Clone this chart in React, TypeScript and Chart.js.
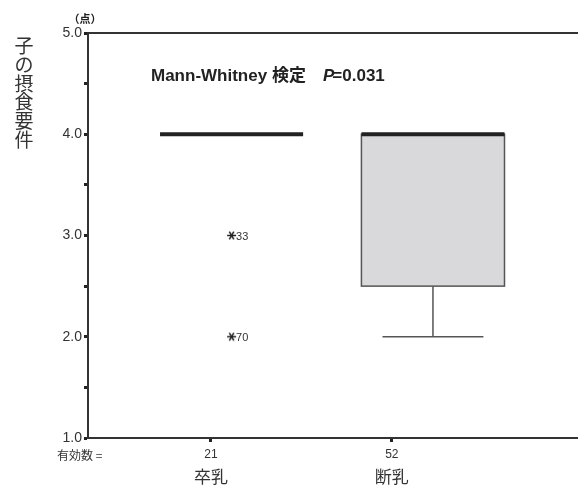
import React, { useEffect, useRef } from 'react';
import { Chart, registerables } from 'chart.js';

Chart.register(...registerables);

// ---- data ----
const categories = ['卒乳', '断乳'];
const validN = [21, 52];
const whiskerLow = [4.0, 2.0];
const q1 = [4.0, 2.5];
const median = [4.0, 4.0];
const q3 = [4.0, 4.0];
const whiskerHigh = [4.0, 4.0];
const outlierGroup = [0, 0];
const outlierValues = [3.0, 2.0];
const outlierLabels = ['33', '70'];
const yTicks = [1.0, 1.5, 2.0, 2.5, 3.0, 3.5, 4.0, 4.5, 5.0];
const yTitle = '子の摂食要件';
const yUnit = '（点）';
const testLabel = 'Mann-Whitney 検定';
const pLabel = '=0.031';
const nLabel = '有効数 =';

// ---- layout (x scale in percent of plot width) ----
const TICK_POS = [25.1, 62.0];
const BOX_POS = [29.3, 70.4];
const BOX_HALF = 14.6;
const CAP_HALF = 10.3;

const SANS = '"Liberation Sans", "Noto Sans CJK JP", sans-serif';
const CJK = '"Noto Sans CJK JP", sans-serif';

function makeAsterisk(): HTMLCanvasElement {
  const c = document.createElement('canvas');
  c.width = 11;
  c.height = 11;
  const g = c.getContext('2d')!;
  g.strokeStyle = '#222';
  g.lineWidth = 1.5;
  const cx = 5.5, cy = 5.5, r = 4.5;
  for (const a of [0, Math.PI / 3, (2 * Math.PI) / 3]) {
    g.beginPath();
    g.moveTo(cx - r * Math.cos(a), cy - r * Math.sin(a));
    g.lineTo(cx + r * Math.cos(a), cy + r * Math.sin(a));
    g.stroke();
  }
  return c;
}

const boxPlugin = {
  id: 'boxPlugin',
  beforeDatasetsDraw(chart: any) {
    const { ctx, scales, chartArea } = chart;
    const xs = scales.x, ys = scales.y;
    ctx.save();
    // top frame line
    ctx.strokeStyle = '#333';
    ctx.lineWidth = 2;
    ctx.beginPath();
    ctx.moveTo(chartArea.left, chartArea.top);
    ctx.lineTo(chartArea.right, chartArea.top);
    ctx.stroke();

    for (let i = 0; i < categories.length; i++) {
      const xl = xs.getPixelForValue(BOX_POS[i] - BOX_HALF);
      const xr = xs.getPixelForValue(BOX_POS[i] + BOX_HALF);
      const xc = xs.getPixelForValue(BOX_POS[i]);
      const cl = xs.getPixelForValue(BOX_POS[i] - CAP_HALF);
      const cr = xs.getPixelForValue(BOX_POS[i] + CAP_HALF);
      const yq1 = ys.getPixelForValue(q1[i]);
      const yq3 = ys.getPixelForValue(q3[i]);
      const ymed = ys.getPixelForValue(median[i]);
      const ylo = ys.getPixelForValue(whiskerLow[i]);
      const yhi = ys.getPixelForValue(whiskerHigh[i]);
      ctx.strokeStyle = '#555';
      ctx.lineWidth = 1.5;
      if (Math.abs(yq1 - yq3) > 0.5) {
        ctx.fillStyle = '#d9d9db';
        ctx.fillRect(xl, yq3, xr - xl, yq1 - yq3);
        ctx.strokeRect(xl, yq3, xr - xl, yq1 - yq3);
      }
      if (Math.abs(ylo - yq1) > 0.5) {
        ctx.beginPath();
        ctx.moveTo(xc, yq1);
        ctx.lineTo(xc, ylo);
        ctx.moveTo(cl, ylo);
        ctx.lineTo(cr, ylo);
        ctx.stroke();
      }
      if (Math.abs(yhi - yq3) > 0.5) {
        ctx.beginPath();
        ctx.moveTo(xc, yq3);
        ctx.lineTo(xc, yhi);
        ctx.moveTo(cl, yhi);
        ctx.lineTo(cr, yhi);
        ctx.stroke();
      }
      ctx.strokeStyle = '#222';
      ctx.lineWidth = 4;
      ctx.beginPath();
      ctx.moveTo(xl, ymed);
      ctx.lineTo(xr, ymed);
      ctx.stroke();
    }
    ctx.restore();
  },
  afterDraw(chart: any) {
    const { ctx, scales } = chart;
    const xs = scales.x, ys = scales.y;
    ctx.save();
    // outlier labels
    ctx.fillStyle = '#333';
    ctx.font = '11px ' + SANS;
    ctx.textAlign = 'left';
    ctx.textBaseline = 'middle';
    for (let k = 0; k < outlierValues.length; k++) {
      const x = xs.getPixelForValue(BOX_POS[outlierGroup[k]]) + 4.5;
      const y = ys.getPixelForValue(outlierValues[k]) + 1.5;
      ctx.fillText(outlierLabels[k], x, y);
    }
    // vertical title
    ctx.fillStyle = '#333';
    ctx.font = '19px ' + CJK;
    ctx.textAlign = 'center';
    ctx.textBaseline = 'middle';
    const chars = Array.from(yTitle);
    chars.forEach((ch, i) => ctx.fillText(ch, 24, 46 + i * 18.7));
    // unit
    ctx.font = 'bold 11px ' + CJK;
    ctx.fillStyle = '#222';
    ctx.fillText(yUnit, 85, 19);
    // test annotation
    ctx.textAlign = 'left';
    ctx.fillStyle = '#222';
    ctx.font = 'bold 17px ' + SANS;
    const ay = ys.getPixelForValue(4.57);
    ctx.fillText(testLabel, 151, ay);
    ctx.font = 'italic bold 17px ' + SANS;
    ctx.fillText('P', 323, ay);
    const pw = ctx.measureText('P').width;
    ctx.font = 'bold 17px ' + SANS;
    ctx.fillText(pLabel, 323 + pw - 2, ay);
    // N label
    ctx.font = '12px ' + CJK;
    ctx.fillStyle = '#333';
    ctx.fillText(nLabel, 57, 455);
    // category names
    ctx.font = '17px ' + CJK;
    ctx.textAlign = 'center';
    for (let i = 0; i < categories.length; i++) {
      ctx.fillText(categories[i], xs.getPixelForValue(TICK_POS[i]), 477);
    }
    ctx.restore();
  },
};

export default function App() {
  const ref = useRef<HTMLCanvasElement | null>(null);
  useEffect(() => {
    const star = makeAsterisk();
    const chart = new Chart(ref.current!, {
      type: 'scatter',
      data: {
        datasets: [
          {
            data: outlierValues.map((v, k) => ({ x: BOX_POS[outlierGroup[k]], y: v })),
            pointStyle: star as any,
            pointRadius: 4,
            borderColor: '#222',
            backgroundColor: '#222',
          },
        ],
      },
      options: {
        responsive: false,
        animation: false,
        layout: { autoPadding: false, padding: { top: 33, left: 0, right: 0, bottom: 0 } },
        plugins: { legend: { display: false }, tooltip: { enabled: false } },
        scales: {
          x: {
            type: 'linear',
            min: 0,
            max: 100,
            afterBuildTicks: (s: any) => {
              s.ticks = TICK_POS.map((v) => ({ value: v }));
            },
            afterFit: (s: any) => {
              s.height = 49;
            },
            ticks: {
              callback: (_v: any, i: number) => String(validN[i]),
              font: { size: 12, family: SANS },
              color: '#333',
              padding: 5,
              maxRotation: 0,
              autoSkip: false,
            },
            grid: { drawOnChartArea: false, drawTicks: true, tickLength: 4, tickWidth: 3, tickColor: '#222' },
            border: { display: true, color: '#333', width: 2 },
          },
          y: {
            type: 'linear',
            min: 1,
            max: 5,
            afterBuildTicks: (s: any) => {
              s.ticks = yTicks.map((v) => ({ value: v }));
            },
            afterFit: (s: any) => {
              s.width = 88;
            },
            ticks: {
              callback: (v: any) => (Math.abs(v - Math.round(v)) < 1e-9 ? Number(v).toFixed(1) : ''),
              font: { size: 14, family: SANS },
              color: '#333',
              padding: 2,
            },
            grid: { drawOnChartArea: false, drawTicks: true, tickLength: 4, tickWidth: 3, tickColor: '#222' },
            border: { display: true, color: '#333', width: 2 },
          },
        },
      },
      plugins: [boxPlugin],
    });
    return () => chart.destroy();
  }, []);
  return (
    <div style={{ position: 'fixed', left: 0, top: 0, width: 578, height: 487, background: '#fff' }}>
      <canvas ref={ref} width={578} height={487} style={{ display: 'block' }} />
    </div>
  );
}
